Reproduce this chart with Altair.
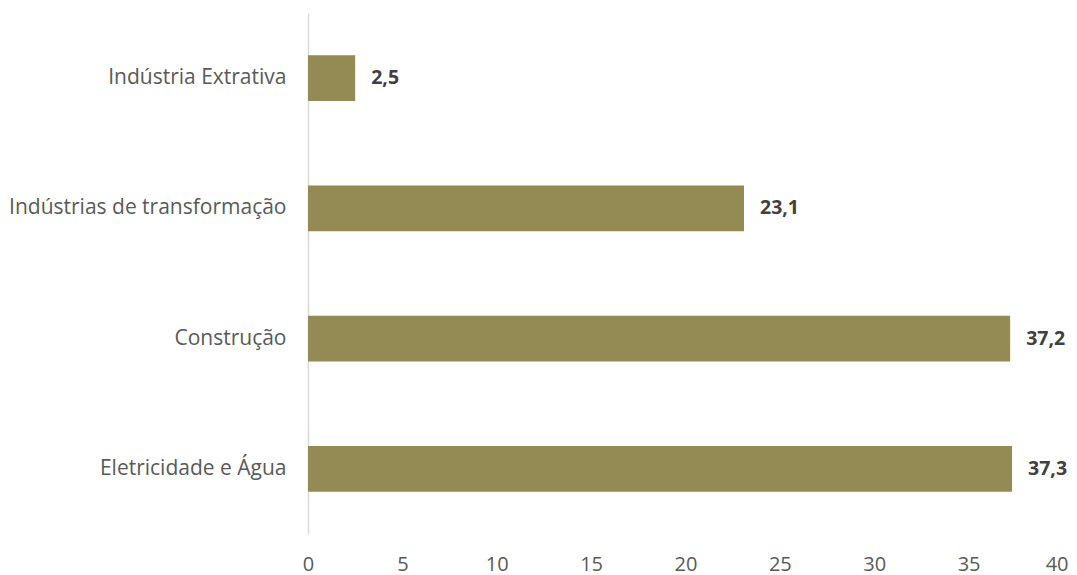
import altair as alt
import pandas as pd

categories = ["Indústria Extrativa", "Indústrias de transformação", "Construção", "Eletricidade e Água"]
values = [2.5, 23.1, 37.2, 37.3]
x_ticks = [0, 5, 10, 15, 20, 25, 30, 35, 40]

df = pd.DataFrame({"cat": categories, "val": values})

FONT = "Open Sans"
BAR = "#948A54"

y_enc = alt.Y("cat:N", sort=categories, title=None,
              scale=alt.Scale(paddingInner=0.647, paddingOuter=0.3235),
              axis=alt.Axis(domain=True, domainColor="#D9D9D9", domainWidth=1.5,
                            ticks=False, grid=False, labelFont=FONT, labelFontSize=21,
                            labelColor="#595959", labelPadding=22, labelLimit=400))
x_enc = alt.X("val:Q", title=None,
              scale=alt.Scale(domain=[0, 40], nice=False),
              axis=alt.Axis(values=x_ticks, domain=False, ticks=False, grid=False,
                            labelFont=FONT, labelFontSize=20, labelColor="#595959",
                            labelFlush=False, labelPadding=20,
                            labelAlign=alt.condition("datum.value == 40", alt.value("right"), alt.value("center")),
                            labelOffset=alt.condition("datum.value == 40", alt.value(5), alt.value(0))))

bars = alt.Chart(df).mark_bar(color=BAR).encode(x=x_enc, y=y_enc)

text = alt.Chart(df).transform_calculate(
    lab="replace(format(datum.val, '.1f'), '.', ',')"
).mark_text(align="left", baseline="middle", dx=16, font=FONT, fontSize=19.5,
            fontWeight="bold", color="#404040").encode(
    x=alt.X("val:Q"), y=alt.Y("cat:N", sort=categories), text="lab:N")

chart = (bars + text).properties(
    width=755, height=521,
    autosize=alt.AutoSizeParams(type="none"),
    padding={"left": 300, "top": 5, "right": 6, "bottom": 41},
).configure(background="white").configure_view(stroke=None, strokeWidth=0)

chart.save("out.html", embed_options={"renderer": "svg", "actions": False})
